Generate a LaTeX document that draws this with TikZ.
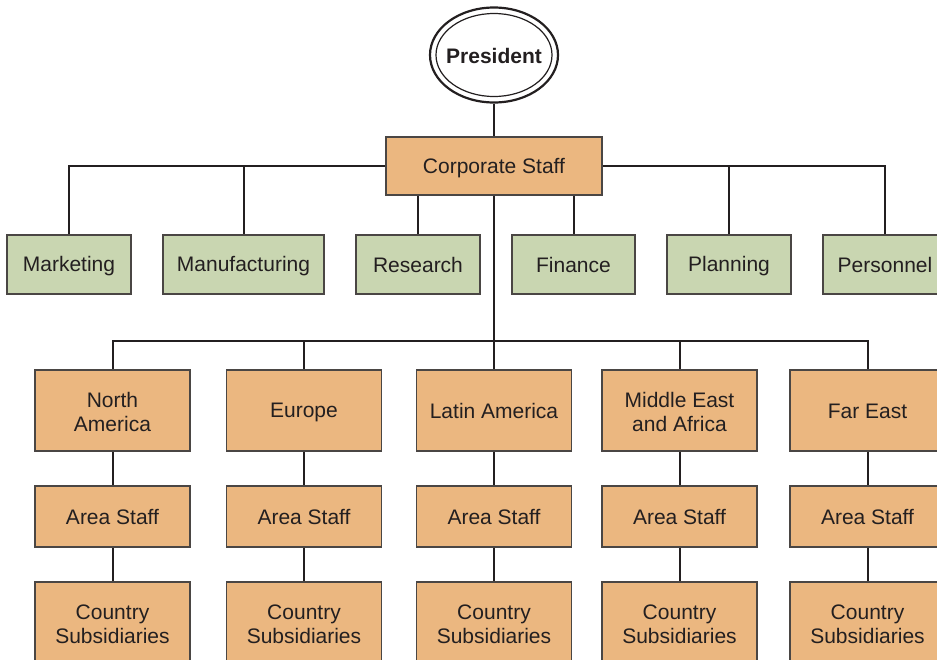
\documentclass[tikz,border=0pt]{standalone}
\usepackage{fontspec}
\setmainfont{Liberation Sans}
\usetikzlibrary{shapes.geometric,calc}
\definecolor{orangebox}{HTML}{EBB780}
\definecolor{greenbox}{HTML}{C9D6B1}
\definecolor{txt}{HTML}{231F20}
\definecolor{edge}{HTML}{4A4644}
\newcommand{\hiline}{\vrule width 0pt height 21pt depth 0pt}
\tikzset{
  base/.style={draw=edge, line width=1.6pt, text=txt, font=\fontsize{21}{24}\selectfont, align=center, inner sep=0pt,
    execute at begin node={\vrule width 0pt height 18.5pt depth 0pt},
    execute at end node={\vrule width 0pt height 0pt depth 3pt}},
  obox/.style={base, fill=orangebox, minimum width=155pt},
  gbox/.style={base, fill=greenbox, minimum height=59pt},
  conn/.style={draw=txt, line width=2pt},
}
\begin{document}
\begin{tikzpicture}[x=1pt,y=-1pt]
\useasboundingbox (0,0) rectangle (937,659);
\clip (0,0) rectangle (937,659);
\coordinate (bus) at (494,341);
% President
\node[ellipse, draw=txt, line width=2.2pt, minimum width=128pt, minimum height=95pt, inner sep=0pt, fill=white] (presouter) at (494,55) {};
\node[ellipse, draw=txt, line width=1.2pt, minimum width=116pt, minimum height=83pt, inner sep=0pt] (presinner) at (494,55) {};
\node[text=txt, font=\fontsize{21}{24}\selectfont\bfseries, inner sep=0pt, yshift=-1pt] (pres) at (presinner.center) {President};
% Corporate staff
\node[base, fill=orangebox, minimum width=216pt, minimum height=58pt] (corp) at (494,166) {Corporate Staff};
% Staff functions
\node[gbox, minimum width=124pt] (mkt) at (69,264.5) {Marketing};
\node[gbox, minimum width=161pt] (mfg) at (243.5,264.5) {Manufacturing};
\node[gbox, minimum width=124pt] (res) at (418,264.5) {Research};
\node[gbox, minimum width=123pt] (fin) at (573.5,264.5) {Finance};
\node[gbox, minimum width=124pt] (pln) at (729,264.5) {Planning};
\node[gbox, minimum width=124pt] (per) at (885,264.5) {Personnel};
% Regions
\node[obox, minimum height=81pt] (na) at (112.5,410.5) {\hiline North\\America};
\node[obox, minimum height=81pt] (eu) at (304,410.5) {Europe};
\node[obox, minimum height=81pt] (la) at (494,410.5) {Latin America};
\node[obox, minimum height=81pt] (me) at (679.5,410.5) {\hiline Middle East\\and Africa};
\node[obox, minimum height=81pt] (fe) at (867.5,410.5) {Far East};
% Area staff
\node[obox, minimum height=61pt] (na2) at (112.5,516.5) {Area Staff};
\node[obox, minimum height=61pt] (eu2) at (304,516.5) {Area Staff};
\node[obox, minimum height=61pt] (la2) at (494,516.5) {Area Staff};
\node[obox, minimum height=61pt] (me2) at (679.5,516.5) {Area Staff};
\node[obox, minimum height=61pt] (fe2) at (867.5,516.5) {Area Staff};
% Country subsidiaries
\node[obox, minimum height=80pt] (na3) at (112.5,622) {\hiline Country\\Subsidiaries};
\node[obox, minimum height=80pt] (eu3) at (304,622) {\hiline Country\\Subsidiaries};
\node[obox, minimum height=80pt] (la3) at (494,622) {\hiline Country\\Subsidiaries};
\node[obox, minimum height=80pt] (me3) at (679.5,622) {\hiline Country\\Subsidiaries};
\node[obox, minimum height=80pt] (fe3) at (867.5,622) {\hiline Country\\Subsidiaries};
% Connectors
\draw[conn] (presouter.south) -- (corp.north);
\draw[conn] (corp.west) -| (mkt.north);
\draw[conn] (corp.west) -| (mfg.north);
\draw[conn] (corp.east) -| (pln.north);
\draw[conn] (corp.east) -| (per.north);
\draw[conn] (res.north) -- (res.north |- corp.south);
\draw[conn] (fin.north) -- (fin.north |- corp.south);
\draw[conn] (corp.south) -- (bus);
\draw[conn] (bus) -| (na.north);
\draw[conn] (bus) -| (eu.north);
\draw[conn] (bus) -- (la.north);
\draw[conn] (bus) -| (me.north);
\draw[conn] (bus) -| (fe.north);
\foreach \r in {na,eu,la,me,fe}{
  \draw[conn] (\r.south) -- (\r2.north);
  \draw[conn] (\r2.south) -- (\r3.north);
}
\end{tikzpicture}
\end{document}
